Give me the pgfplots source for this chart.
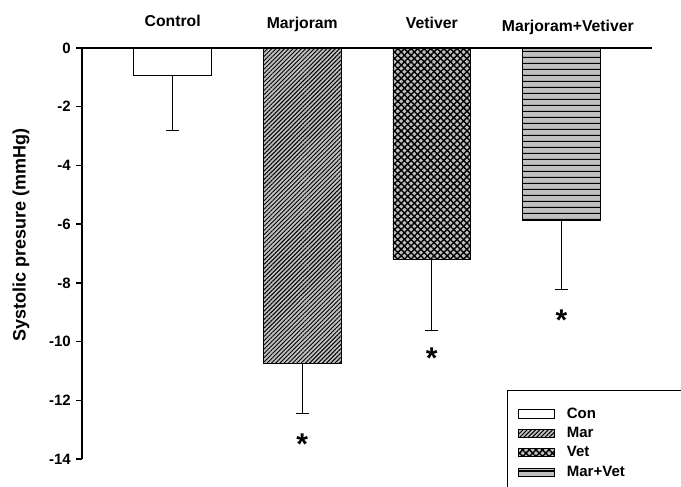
\documentclass[border=0pt]{standalone}
\usepackage{fontspec}
\setmainfont{Liberation Sans}
\usepackage{pgfplots}
\pgfplotsset{compat=1.18}
\usetikzlibrary{patterns,patterns.meta}
\definecolor{barfill}{HTML}{C0C0C0}
\pgfdeclarepatternformonly{hlineswide}{\pgfqpoint{0pt}{0pt}}{\pgfqpoint{200pt}{4pt}}{\pgfqpoint{200pt}{4pt}}{%
  \pgfsetlinewidth{0.7pt}%
  \pgfpathmoveto{\pgfqpoint{-1pt}{2pt}}%
  \pgfpathlineto{\pgfqpoint{201pt}{2pt}}%
  \pgfusepath{stroke}}
\begin{document}
\begin{tikzpicture}
\begin{axis}[
 at={(0,0)}, anchor=south west,
 width=380pt, height=274pt, scale only axis,
 xmin=-0.7, xmax=3.7, ymin=-14, ymax=0,
 axis y line=left, axis x line=top,
 axis line style={-, line width=0.9pt, black},
 xtick=\empty,
 ytick={-14,-12,-10,-8,-6,-4,-2,0},
 yticklabels={-14,-12,-10,-8,-6,-4,-2,0},
 tick align=outside, major tick length=4pt,
 tick style={line width=0.9pt, black},
 yticklabel style={font=\fontsize{10}{10}\selectfont\bfseries},
 ylabel={Systolic presure (mmHg)},
 ylabel style={font=\fontsize{12}{12}\selectfont\bfseries, at={(axis description cs:-0.107,0.545)}, anchor=center},
 ybar, bar width=0.6, bar shift=0pt,
 error bars/y dir=minus, error bars/y explicit,
 error bars/error bar style={line width=0.6pt, black},
 error bars/error mark options={rotate=90, line width=0.6pt, mark size=4.4pt, black},
 legend image code/.code={\draw[#1, line width=0.6pt] (0pt,-2.75pt) rectangle (24pt,2.75pt);},
 legend style={at={(0.7456,0.1679)}, anchor=north west, draw=black, line width=0.6pt,
   font=\fontsize{10}{10}\selectfont\bfseries, inner xsep=7pt, inner ysep=9.5pt, row sep=0.5pt,
   cells={anchor=west},
   /tikz/every odd column/.append style={column sep=6pt}},
 legend cell align=left,
 clip=false,
]
\addplot[fill=barfill, draw=black, line width=0.6pt, fill=white] coordinates {(0,-0.92) +- (0,1.90)};
\addlegendentry{\makebox[85pt][l]{Con}}
\addplot[fill=barfill, draw=black, line width=0.6pt,
  postaction={pattern={Lines[angle=45,distance=2pt,line width=0.65pt]}}] coordinates {(1,-10.74) +- (0,1.70)};
\addlegendentry{\makebox[85pt][l]{Mar}}
\addplot[fill=barfill, draw=black, line width=0.6pt,
  postaction={pattern={Lines[angle=45,distance=3.1pt,line width=0.95pt]}},
  postaction={pattern={Lines[angle=-45,distance=3.1pt,line width=0.95pt]}}] coordinates {(2,-7.20) +- (0,2.43)};
\addlegendentry{\makebox[85pt][l]{Vet}}
\addplot[fill=barfill, draw=black, line width=0.6pt,
  postaction={pattern=hlineswide}] coordinates {(3,-5.86) +- (0,2.38)};
\addlegendentry{\makebox[85pt][l]{Mar+Vet}}
\node[font=\fontsize{10.5}{10.5}\selectfont\bfseries, anchor=base, yshift=14.2pt] at (axis cs:0,0) {Control};
\node[font=\fontsize{10.5}{10.5}\selectfont\bfseries, anchor=base, yshift=13pt] at (axis cs:1,0) {Marjoram};
\node[font=\fontsize{10.5}{10.5}\selectfont\bfseries, anchor=base, yshift=13pt] at (axis cs:2,0) {Vetiver};
\node[font=\fontsize{10.5}{10.5}\selectfont\bfseries, anchor=base, yshift=10.7pt] at (axis cs:3.05,0) {Marjoram+Vetiver};
\node[font=\fontsize{20}{20}\selectfont\bfseries, anchor=base, yshift=-11.6pt] at (axis cs:1,-13.24) {*};
\node[font=\fontsize{20}{20}\selectfont\bfseries, anchor=base, yshift=-11.6pt] at (axis cs:2,-10.34) {*};
\node[font=\fontsize{20}{20}\selectfont\bfseries, anchor=base, yshift=-11.6pt] at (axis cs:3,-9.02) {*};
\end{axis}
\pgfresetboundingbox
\path[use as bounding box] (-54.7pt,-18pt) rectangle (399.3pt,306pt);
\end{tikzpicture}
\end{document}
